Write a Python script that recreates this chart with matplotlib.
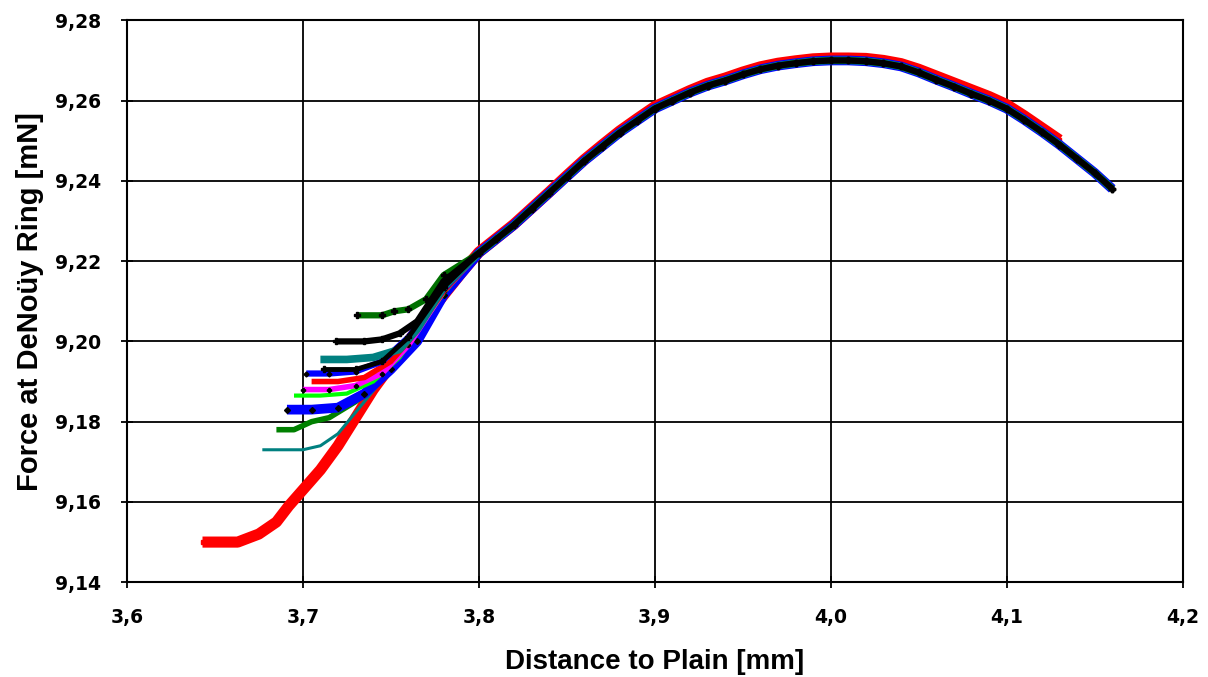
import matplotlib.pyplot as plt

plt.rcParams['font.family'] = ['Liberation Sans', 'DejaVu Sans']

# shared part of the curve (all runs collapse onto it)
tail_x = [3.80, 3.81, 3.82, 3.83, 3.84, 3.85, 3.86, 3.87, 3.88, 3.89, 3.90, 3.91,
          3.92, 3.93, 3.94, 3.95, 3.96, 3.97, 3.98, 3.99, 4.00, 4.01, 4.02, 4.03,
          4.04, 4.05, 4.06, 4.07, 4.08, 4.09, 4.10, 4.11, 4.12, 4.13, 4.14, 4.15,
          4.16]
tail_y = [9.222, 9.2255, 9.229, 9.233, 9.237, 9.241, 9.245, 9.2485, 9.252, 9.255,
          9.258, 9.260, 9.262, 9.2637, 9.265, 9.2665, 9.2678, 9.2687, 9.2693, 9.2698,
          9.270, 9.270, 9.2698, 9.2693, 9.2685, 9.267, 9.2652, 9.2635, 9.2617, 9.260,
          9.258, 9.2552, 9.2522, 9.249, 9.2455, 9.242, 9.238]
# red run sits a touch above the others along the top
red_tail_y = [9.2222, 9.2257, 9.2292, 9.2332, 9.2372, 9.2413, 9.2453, 9.2489, 9.2524,
              9.2555, 9.2585, 9.2605, 9.2625, 9.2643, 9.2656, 9.2671, 9.2684, 9.2693,
              9.2699, 9.2704, 9.2706, 9.2706, 9.2705, 9.2700, 9.2692, 9.2678, 9.2661,
              9.2644, 9.2627, 9.2610, 9.2590, 9.2562, 9.2532, 9.2502]

# start of each run (before joining the shared curve)
teal_x = [3.677, 3.700, 3.710, 3.720, 3.735, 3.750, 3.765, 3.780]
teal_y = [9.173, 9.173, 9.174, 9.177, 9.185, 9.193, 9.201, 9.2105]
dkgreen_x = [3.685, 3.695, 3.705, 3.715, 3.730, 3.745, 3.760, 3.780]
dkgreen_y = [9.178, 9.178, 9.180, 9.181, 9.185, 9.191, 9.198, 9.211]
bluesq_x = [3.691, 3.705, 3.720, 3.735, 3.750, 3.765, 3.780]
bluesq_y = [9.183, 9.183, 9.1835, 9.187, 9.193, 9.200, 9.2115]
lime_x = [3.695, 3.710, 3.725, 3.740, 3.755, 3.780]
lime_y = [9.1865, 9.1865, 9.187, 9.190, 9.196, 9.212]
magenta_x = [3.700, 3.715, 3.730, 3.745, 3.760, 3.780]
magenta_y = [9.188, 9.188, 9.189, 9.192, 9.199, 9.2125]
red2_x = [3.705, 3.720, 3.735, 3.750, 3.760, 3.780]
red2_y = [9.190, 9.190, 9.191, 9.195, 9.200, 9.2125]
blue_x = [3.702, 3.715, 3.730, 3.745, 3.760, 3.780]
blue_y = [9.192, 9.192, 9.1925, 9.195, 9.201, 9.213]
teal2_x = [3.710, 3.725, 3.740, 3.755, 3.765, 3.780]
teal2_y = [9.1955, 9.1955, 9.196, 9.198, 9.203, 9.2135]
black2_x = [3.712, 3.730, 3.745, 3.760, 3.780]
black2_y = [9.193, 9.193, 9.195, 9.201, 9.2135]
black_x = [3.719, 3.735, 3.745, 3.755, 3.765, 3.780]
black_y = [9.200, 9.200, 9.2005, 9.202, 9.205, 9.215]
green_top_x = [3.731, 3.745, 3.752, 3.760, 3.770, 3.780]
green_top_y = [9.2065, 9.2065, 9.2075, 9.208, 9.2105, 9.2165]

# the long red run
red_x = [3.643, 3.663, 3.675, 3.685, 3.692, 3.700, 3.710, 3.720, 3.730, 3.740,
         3.750, 3.760, 3.770, 3.780, 3.790]
red_y = [9.150, 9.150, 9.152, 9.155, 9.159, 9.163, 9.168, 9.174, 9.181, 9.188,
         9.194, 9.200, 9.206, 9.2115, 9.217]

fig, ax = plt.subplots(figsize=(12.08, 6.77), dpi=100)
fig.subplots_adjust(left=0.105, right=0.979, top=0.970, bottom=0.140)


def run(xs, ys, color, lw, marker, mfc, ms, z, ty=None):
    if ty is None:
        ty = tail_y
    fx = xs + tail_x[:len(ty)]
    fy = ys + ty
    ax.plot(fx, fy, color=color, lw=lw, marker=marker, ms=ms, mfc=mfc,
            mec=mfc, zorder=z, solid_capstyle='butt')


run(red_x, red_y, '#ff0000', 8.0, 's', '#ff0000', 3, 3, red_tail_y)
run(teal_x, teal_y, '#008080', 2.2, None, None, 0, 4)
run(dkgreen_x, dkgreen_y, '#008000', 4.0, None, None, 0, 4)
run(bluesq_x, bluesq_y, '#0000ff', 7.0, 'D', 'black', 3, 4)
run(lime_x, lime_y, '#00ff00', 3.0, None, None, 0, 4)
run(magenta_x, magenta_y, '#ff00ff', 4.0, 'P', 'black', 3, 5)
run(red2_x, red2_y, '#ff0000', 4.0, None, None, 0, 5)
run(blue_x, blue_y, '#0000ff', 4.5, 'D', 'black', 2.5, 5)
run(teal2_x, teal2_y, '#008080', 5.5, None, None, 0, 5)
run(green_top_x, green_top_y, '#007000', 4.5, 'P', 'black', 4, 5)
run(black2_x, black2_y, 'black', 3.5, 'P', 'black', 4, 6)
run(black_x, black_y, 'black', 4.5, 'P', 'black', 4, 6)

ax.set_xlim(3.6, 4.2)
ax.set_ylim(9.14, 9.28)
xt = [3.6, 3.7, 3.8, 3.9, 4.0, 4.1, 4.2]
yt = [9.14, 9.16, 9.18, 9.20, 9.22, 9.24, 9.26, 9.28]
ax.set_xticks(xt)
ax.set_xticklabels([f"{v:.1f}".replace('.', ',') for v in xt])
ax.set_yticks(yt)
ax.set_yticklabels([f"{v:.2f}".replace('.', ',') for v in yt])
ax.grid(True, color='black', lw=1.3)
ax.set_axisbelow(True)
for s in ax.spines.values():
    s.set_linewidth(1.5)
ax.tick_params(direction='inout', length=9, width=1.3, labelsize=13.5, pad=14)
for lab in ax.get_xticklabels() + ax.get_yticklabels():
    lab.set_fontweight('bold')
    lab.set_family('DejaVu Sans')

ax.set_xlabel("Distance to Plain [mm]", fontsize=20, fontweight='bold', labelpad=16)
ax.set_ylabel("Force at DeNoüy Ring [mN]", fontsize=21, fontweight='bold', labelpad=8)

plt.savefig("out.png", dpi=100)
